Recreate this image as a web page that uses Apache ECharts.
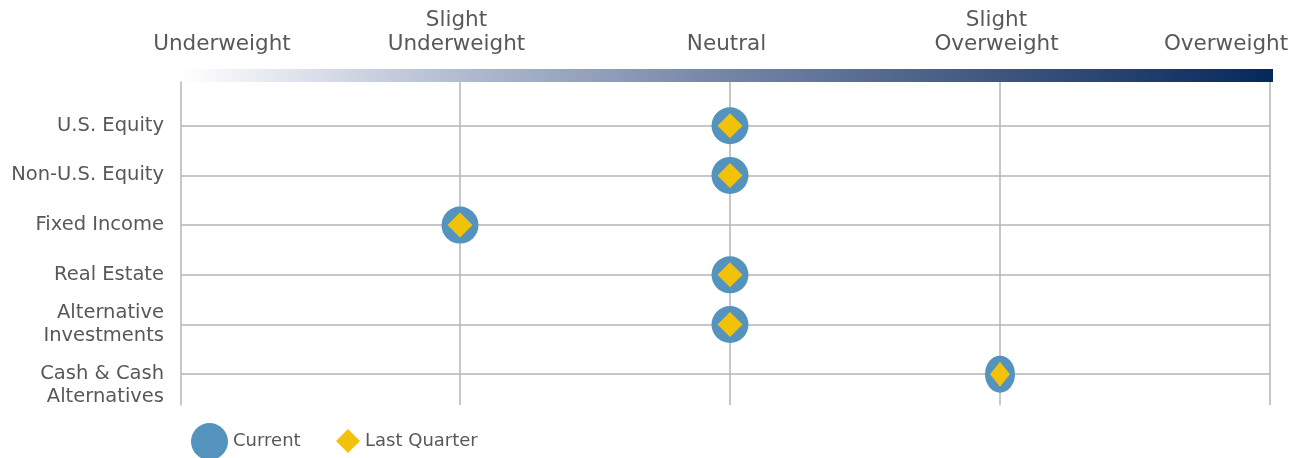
<!DOCTYPE html>
<html>
<head>
<meta charset="utf-8">
<script src="https://cdn.jsdelivr.net/npm/echarts@6/dist/echarts.min.js"></script>
<style>
html,body{margin:0;padding:0;background:#fff;}
#c{width:1299px;height:458px;}
</style>
</head>
<body>
<div id="c"></div>
<script>
const categories = ['U.S. Equity', 'Non-U.S. Equity', 'Fixed Income', 'Real Estate', 'Alternative\nInvestments', 'Cash & Cash\nAlternatives'];
const scaleLabels = ['Underweight', 'Slight\nUnderweight', 'Neutral', 'Slight\nOverweight', 'Overweight'];
// position on scale (0 = Underweight ... 4 = Overweight), one per category
const currentValues = [2, 2, 1, 2, 2, 3];
const lastQuarterValues = [2, 2, 1, 2, 2, 3];

const FONT = 'DejaVu Sans';
const TXT = '#585858';
const GRID = '#b5b5b5';

const chart = echarts.init(document.getElementById('c'));

function pointData(vals, sizeFn) {
  return vals.map((v, i) => ({ value: [v, i], symbolSize: sizeFn(i) }));
}

const lastIdx = categories.length - 1;
const yLabelBase = {
  hideOverlap: false, showMinLabel: true, showMaxLabel: true,
  margin: 17, color: TXT, fontFamily: FONT, fontSize: 19.5, lineHeight: 23, align: 'right'
};
const yAxisBase = {
  type: 'value', inverse: true, min: -0.88, max: 5.62, position: 'left',
  axisTick: { show: false }, splitLine: { show: false }
};
const xRich = (pad) => ({ color: TXT, fontFamily: FONT, fontSize: 21.5, lineHeight: 24, padding: pad });

chart.setOption({
  animation: false,
  grid: { left: 181, right: 29, top: 82, bottom: 53, containLabel: false, outerBoundsMode: 'none' },
  xAxis: {
    type: 'value', position: 'top', min: -0.0333, max: 4,
    axisLine: { show: false, onZero: false }, axisTick: { show: false }, splitLine: { show: false },
    axisLabel: {
      show: true, customValues: scaleLabels.map((s, i) => i),
      margin: 26, showMinLabel: true, showMaxLabel: true, hideOverlap: false,
      color: TXT, fontFamily: FONT, fontSize: 21.5, lineHeight: 24,
      formatter: function (v) {
        const i = Math.round(v);
        const t = scaleLabels[i];
        if (i === 0) return '{l|' + t + '}';
        if (i === scaleLabels.length - 1) return '{r|' + t + '}';
        return '{m|' + t + '}';
      },
      rich: {
        l: xRich([0, 0, 0, 64]),
        r: xRich([0, 88, 0, 0]),
        m: xRich([0, 7, 0, 0])
      }
    }
  },
  yAxis: [
    Object.assign({}, yAxisBase, {
      axisLine: { show: true, onZero: false, lineStyle: { color: GRID, width: 1.5 } },
      axisLabel: Object.assign({}, yLabelBase, {
        customValues: categories.slice(0, lastIdx).map((c, i) => i),
        formatter: v => categories[Math.round(v)]
      })
    }),
    // last category label sits with its first line on the row
    Object.assign({}, yAxisBase, {
      axisLine: { show: false, onZero: false },
      axisLabel: Object.assign({}, yLabelBase, {
        customValues: [lastIdx],
        formatter: v => ' \n' + categories[Math.round(v)]
      })
    })
  ],
  legend: [
    { data: ['Current'], left: 191, top: 423, itemWidth: 37, itemHeight: 37, itemGap: 0,
      textStyle: { color: TXT, fontFamily: FONT, fontSize: 18 }, padding: 0 },
    { data: ['Last Quarter'], left: 336, top: 429, itemWidth: 24, itemHeight: 24, itemGap: 0,
      textStyle: { color: TXT, fontFamily: FONT, fontSize: 18 }, padding: 0 }
  ],
  series: [
    {
      name: 'Current', type: 'scatter', symbol: 'circle',
      itemStyle: { color: '#5393be', opacity: 1 },
      data: pointData(currentValues, i => i === lastIdx ? [30, 37] : 37),
      z: 3,
      markLine: {
        silent: true, symbol: 'none', label: { show: false }, z: 1,
        lineStyle: { color: GRID, width: 1.5, type: 'solid' },
        emphasis: { disabled: true },
        data: categories.map((c, i) => ({ yAxis: i }))
          .concat(scaleLabels.slice(1).map((s, i) => ({ xAxis: i + 1 })))
      }
    },
    {
      name: 'Last Quarter', type: 'scatter', symbol: 'diamond',
      itemStyle: { color: '#f2c20a', opacity: 1 },
      data: pointData(lastQuarterValues, i => i === lastIdx ? [20, 25] : 25),
      z: 4
    }
  ]
});

// gradient scale bar above the plot, positioned from the grid
const rect = chart.getModel().getComponent('grid').coordinateSystem.getRect();
chart.setOption({
  graphic: [{
    type: 'rect', silent: true,
    shape: { x: rect.x, y: rect.y - 13, width: rect.width + 3, height: 13 },
    style: {
      fill: new echarts.graphic.LinearGradient(0, 0, 1, 0, [
        { offset: 0, color: '#ffffff' },
        { offset: 0.25, color: '#b3bcd2' },
        { offset: 0.5, color: '#7484a7' },
        { offset: 0.75, color: '#3e567f' },
        { offset: 1, color: '#05285c' }
      ])
    }
  }]
});
</script>
</body>
</html>
